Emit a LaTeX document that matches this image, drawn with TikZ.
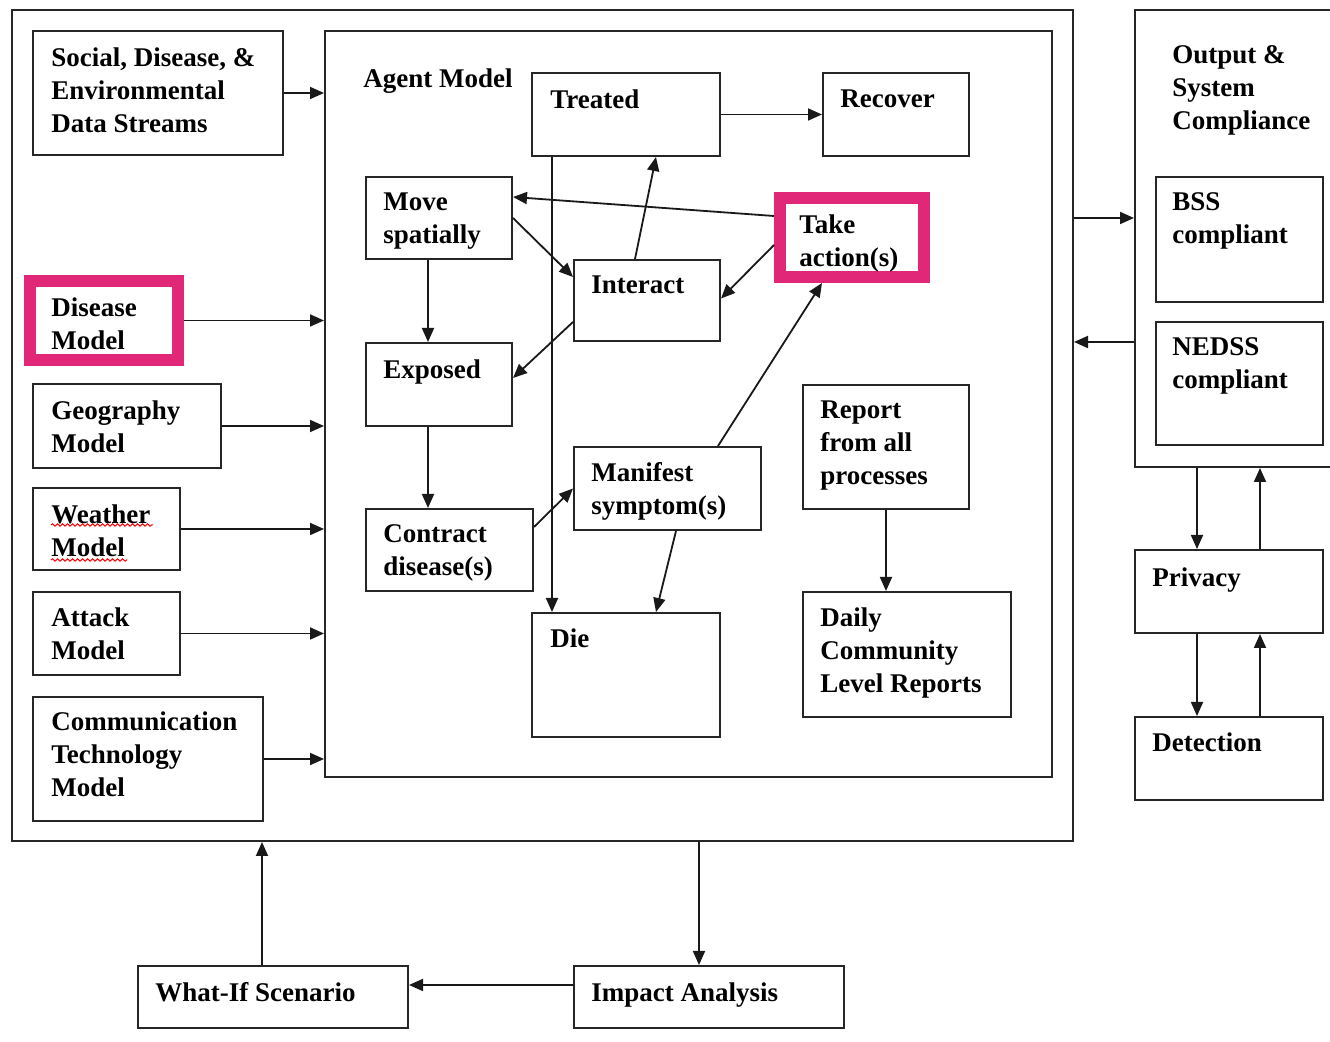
\documentclass[tikz,border=0pt]{standalone}
\usepackage{fontspec}
\setmainfont{Liberation Serif}
\usetikzlibrary{arrows.meta,decorations.pathmorphing}
\definecolor{hipink}{RGB}{225,40,120}
\newcommand\mybx[9][box]{%
  \node[#1, minimum width={(#5-#3)*0.5pt}, minimum height={(#6-#4)*0.5pt}] (#2) at ({(#3+#5)/2},{(#4+#6)/2}) {};
  \node[txt] (#2-t) at (#7,#8-18) {#9};
}
\begin{document}
\begin{tikzpicture}[x=0.5pt,y=-0.5pt,
  box/.style={draw=black!85, line width=1pt, rectangle, inner sep=0pt},
  pinkbox/.style={draw=hipink, line width=6pt, rectangle, inner sep=0pt},
  txt/.style={anchor=north west, inner sep=0pt, align=left, font=\fontsize{13.5}{16.5}\selectfont\bfseries},
  arr/.style={-{Triangle[length=7pt,width=6pt]}, line width=0.9pt, draw=black!90},
  squig/.style={draw=red, line width=0.5pt, decorate, decoration={snake, amplitude=0.6pt, segment length=2.5pt}}]
\useasboundingbox (0,0) rectangle (1330,1042);
\fill[white] (0,0) rectangle (1330,1042);
\clip (0,0) rectangle (1330,1042);

% outer frames
\node[box, minimum width={(1073-12)*0.5pt}, minimum height={(841-10)*0.5pt}] (outer) at ({(12+1073)/2},{(10+841)/2}) {};
\mybx{agent}{325}{31}{1052}{777}{363}{86}{Agent Model}
\mybx{output}{1135}{10}{1345}{467}{1172}{63}{Output \&\\System\\Compliance}

% left column
\mybx{social}{33}{31}{283}{155}{51}{65}{Social, Disease, \&\\Environmental\\Data Streams}
\mybx[pinkbox]{disease}{30}{281}{178}{360}{51}{315}{Disease\\Model}
\mybx{geo}{33}{384}{221}{468}{51}{418}{Geography\\Model}
\mybx{weather}{33}{488}{180}{570}{51}{522}{Weather\\Model}
\mybx{attack}{33}{592}{180}{675}{51}{625}{Attack\\Model}
\mybx{comm}{33}{697}{263}{821}{51}{729}{Communication\\Technology\\Model}

% agent model interior
\mybx{treated}{532}{73}{720}{156}{550}{107}{Treated}
\mybx{recover}{823}{73}{969}{156}{840}{107}{Recover}
\mybx{move}{366}{177}{512}{259}{383}{210}{Move\\spatially}
\mybx[pinkbox]{take}{780}{198}{924}{277}{799}{232}{Take\\action(s)}
\mybx{interact}{574}{260}{720}{341}{591}{293}{Interact}
\mybx{exposed}{366}{343}{512}{426}{383}{377}{Exposed}
\mybx{report}{803}{385}{969}{509}{820}{418}{Report\\from all\\processes}
\mybx{manifest}{574}{447}{761}{530}{591}{480}{Manifest\\symptom(s)}
\mybx{contract}{366}{509}{533}{591}{383}{542}{Contract\\disease(s)}
\mybx{die}{532}{613}{720}{737}{550}{646}{Die}
\mybx{daily}{803}{592}{1011}{717}{820}{625}{Daily\\Community\\Level Reports}

% right column
\mybx{bss}{1156}{177}{1323}{302}{1172}{210}{BSS\\compliant}
\mybx{nedss}{1156}{322}{1323}{445}{1172}{355}{NEDSS\\compliant}
\mybx{privacy}{1135}{550}{1323}{633}{1152}{585}{Privacy}
\mybx{detection}{1135}{717}{1323}{800}{1152}{750}{Detection}

% bottom
\mybx{whatif}{138}{966}{408}{1028}{155}{1000}{What-If Scenario}
\mybx{impact}{574}{966}{844}{1028}{591}{1000}{Impact Analysis}

% spell-check squiggles
\draw[squig] (51,525) -- (153,525);
\draw[squig] (51,560) -- (127,560);

% inputs to agent model
\draw[arr] (social.east) -- (social.east -| agent.west);
\draw[arr] (disease.east) -- (disease.east -| agent.west);
\draw[arr] (geo.east) -- (geo.east -| agent.west);
\draw[arr] (weather.east) -- (weather.east -| agent.west);
\draw[arr] (attack.east) -- (attack.east -| agent.west);
\draw[arr] (comm.east) -- (comm.east -| agent.west);

% agent model interior connectors
\draw[arr] (treated.east) -- (recover.west);
\draw[arr] ([xshift=10.5pt]die.north west |- treated.south) -- ([xshift=10.5pt]die.north west);
\draw[arr] ([xshift=31pt]interact.north west) -- ([xshift=62.5pt]treated.south west);
\draw[arr] ([yshift=10.75pt]take.west) -- ([yshift=10.5pt]move.east);
\draw[arr] ([yshift=-3.75pt]take.west) -- ([yshift=1pt]interact.east);
\draw[arr] (move.east) -- ([yshift=-9pt]interact.north west);
\draw[arr] ([yshift=-10.75pt]interact.west) -- ([yshift=3.25pt]exposed.east);
\draw[arr] ([xshift=-5.5pt]move.south) -- ([xshift=-5.5pt]exposed.north);
\draw[arr] ([xshift=-5.5pt]exposed.south) -- ([xshift=-5.5pt]exposed.south |- contract.north);
\draw[arr] ([yshift=11.5pt]contract.east) -- (manifest.west);
\draw[arr] ([xshift=72.5pt]manifest.north west) -- ([xshift=24pt]take.south west);
\draw[arr] ([xshift=51.5pt]manifest.south west) -- ([xshift=62.5pt]die.north west);
\draw[arr] (report.south) -- (report.south |- daily.north);

% right side connectors
\draw[arr] (outer.east |- 0,218) -- (output.west |- 0,218);
\draw[arr] (output.west |- 0,342) -- (outer.east |- 0,342);
\draw[arr] ([xshift=-16pt]privacy.north |- output.south) -- ([xshift=-16pt]privacy.north);
\draw[arr] ([xshift=15.5pt]privacy.north) -- ([xshift=15.5pt]privacy.north |- output.south);
\draw[arr] ([xshift=-16pt]privacy.south) -- ([xshift=-16pt]detection.north);
\draw[arr] ([xshift=15.5pt]detection.north) -- ([xshift=15.5pt]privacy.south);

% bottom connectors
\draw[arr] ([xshift=-5pt]impact.north |- outer.south) -- ([xshift=-5pt]impact.north);
\draw[arr] ([yshift=6pt]impact.west) -- ([yshift=6pt]impact.west -| whatif.east);
\draw[arr] ([xshift=-5.5pt]whatif.north) -- ([xshift=-5.5pt]whatif.north |- outer.south);
\end{tikzpicture}
\end{document}
